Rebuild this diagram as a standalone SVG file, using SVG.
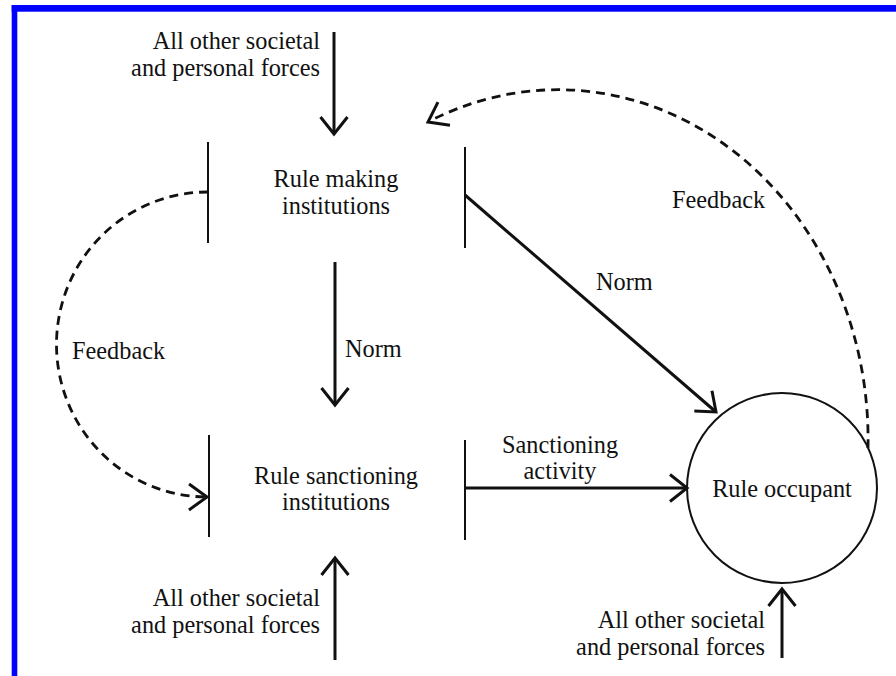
<svg xmlns="http://www.w3.org/2000/svg" width="896" height="676" viewBox="0 0 896 676">
<style>
text{font-family:"Liberation Serif","Times New Roman",serif;font-size:24.3px;fill:#111}
.bar{stroke:#111;stroke-width:2;fill:none}
.arr{stroke:#111;stroke-width:3;fill:none;marker-end:url(#ah)}
.dash{stroke:#111;stroke-width:2.8;fill:none;stroke-dasharray:9 6;marker-end:url(#ahd)}
.r{text-anchor:end}
.c{text-anchor:middle}
</style>
<defs>
<marker id="ah" markerUnits="userSpaceOnUse" markerWidth="44" markerHeight="44" viewBox="-22 -22 44 44" refX="0" refY="0" orient="auto">
<path d="M-17,-13.5 L0,0 L-17,13.5" fill="none" stroke="#111" stroke-width="3"/>
</marker>
<marker id="ahd" markerUnits="userSpaceOnUse" markerWidth="44" markerHeight="44" viewBox="-22 -22 44 44" refX="0" refY="0" orient="auto">
<path d="M-18,-13 L0,0 L-18,13" fill="none" stroke="#111" stroke-width="3"/>
</marker>
</defs>
<rect width="896" height="676" fill="#fff"/>
<g id="border" fill="#0000ff">
<rect x="11.7" y="5" width="884.3" height="6.7"/>
<rect x="11.7" y="5" width="5.6" height="671"/>
</g>
<g id="rule-making">
<line class="bar" x1="208" y1="142" x2="208" y2="243"/>
<line class="bar" x1="465" y1="147" x2="465" y2="248"/>
<text class="c" x="336" y="187">Rule making</text>
<text class="c" x="336" y="214">institutions</text>
</g>
<g id="rule-sanctioning">
<line class="bar" x1="209" y1="435" x2="209" y2="537"/>
<line class="bar" x1="465" y1="440" x2="465" y2="540"/>
<text class="c" x="336" y="484">Rule sanctioning</text>
<text class="c" x="336" y="510">institutions</text>
</g>
<g id="rule-occupant">
<circle cx="782" cy="488" r="95" fill="none" stroke="#111" stroke-width="2"/>
<text class="c" x="782" y="497">Rule occupant</text>
</g>
<g id="forces-top">
<text class="r" x="320" y="49">All other societal</text>
<text class="r" x="320" y="76">and personal forces</text>
</g>
<g id="forces-bottom-left">
<text class="r" x="320" y="606">All other societal</text>
<text class="r" x="320" y="633">and personal forces</text>
</g>
<g id="forces-bottom-right">
<text class="r" x="765" y="628">All other societal</text>
<text class="r" x="765" y="655">and personal forces</text>
</g>
<g id="connectors">
<line class="arr" x1="334" y1="32" x2="334" y2="134"/>
<line class="arr" x1="335" y1="262" x2="335" y2="405"/>
<line class="arr" x1="335" y1="660" x2="335" y2="558"/>
<line class="arr" x1="782" y1="658" x2="782" y2="589"/>
<line class="arr" x1="465" y1="488" x2="687" y2="488"/>
<line class="arr" x1="465" y1="195" x2="716" y2="412"/>
<path class="dash" d="M208,192 A151,152.5 0 0 0 207,497"/>
<path class="dash" d="M868,448 A310,350 0 0 0 428,122"/>
<text x="596" y="290">Norm</text>
<text x="345" y="357">Norm</text>
<text class="c" x="560" y="453">Sanctioning</text>
<text class="c" x="560" y="479">activity</text>
<text x="72" y="359">Feedback</text>
<text x="672" y="208">Feedback</text>
</g>
</svg>
